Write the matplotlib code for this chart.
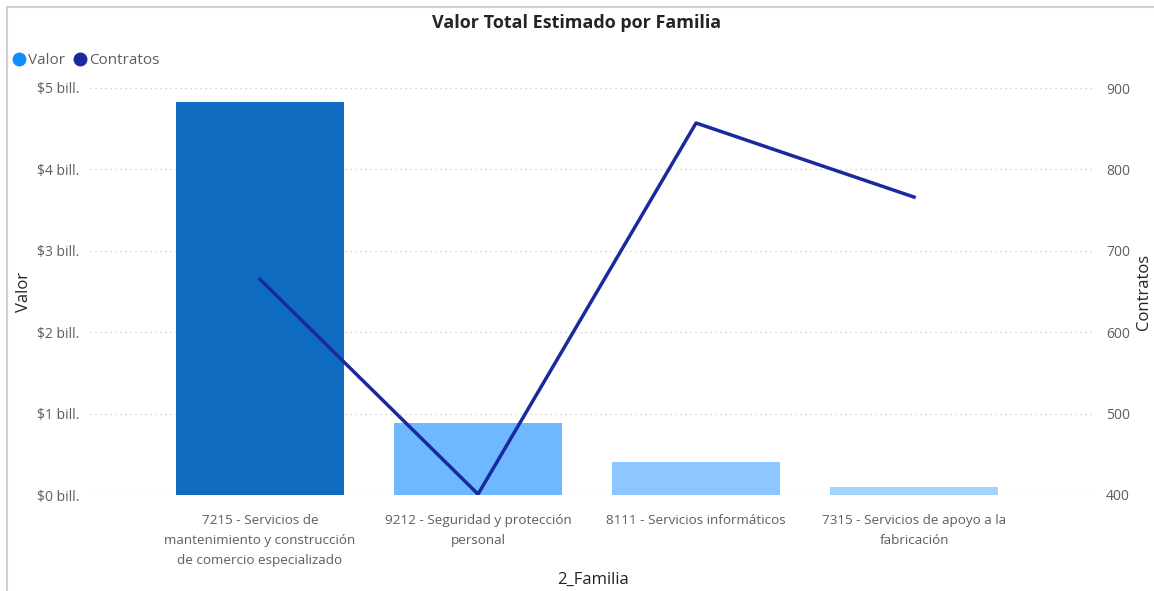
import matplotlib
matplotlib.use("Agg")
import matplotlib.pyplot as plt
from matplotlib.lines import Line2D
from matplotlib.patches import Rectangle
from matplotlib.ticker import FuncFormatter

plt.rcParams['font.family'] = ['Open Sans', 'DejaVu Sans']

familias = [
    "7215 - Servicios de\nmantenimiento y construcción\nde comercio especializado",
    "9212 - Seguridad y protección\npersonal",
    "8111 - Servicios informáticos",
    "7315 - Servicios de apoyo a la\nfabricación",
]
valor_bill = [4.83, 0.885, 0.405, 0.10]
contratos = [665, 401, 857, 766]
bar_colors = ['#0F6BC0', '#6DB8FF', '#8CC8FF', '#A3D2FF']
line_color = '#1A2A9E'
tick_gray = '#605E5C'


def main():
    fig = plt.figure(figsize=(11.54, 5.91), dpi=100)
    ax = fig.add_axes([90 / 1154, 1 - 495 / 591, (1095 - 90) / 1154, (495 - 88) / 591])
    ax2 = ax.twinx()

    x = list(range(len(familias)))
    ax.bar(x, valor_bill, width=0.77, color=bar_colors, zorder=2)
    ax2.plot(x, contratos, color=line_color, linewidth=2.5, zorder=3)

    ax.set_xlim(-0.78, 3.83)
    ax.set_ylim(0, 5)
    ax2.set_ylim(400, 900)
    ax.set_yticks([0, 1, 2, 3, 4, 5])
    ax2.set_yticks([400, 500, 600, 700, 800, 900])
    ax.yaxis.set_major_formatter(FuncFormatter(lambda v, p: f"${v:.0f} bill."))

    ax.grid(axis='y', color='#C8C8C8', linestyle=(0, (1, 3)), linewidth=0.9, zorder=0)
    for a in (ax, ax2):
        for s in a.spines.values():
            s.set_visible(False)
        a.tick_params(length=0, labelsize=10, labelcolor=tick_gray)
    ax.tick_params(axis='y', pad=8)
    ax2.tick_params(axis='y', pad=8)

    ax.set_xticks(x)
    ax.set_xticklabels(familias, fontsize=9.7, color=tick_gray, linespacing=1.68)
    ax.tick_params(axis='x', pad=14)

    ax.set_ylabel("Valor", fontsize=12, color='#252423')
    ax.yaxis.set_label_coords(-0.058, 0.5)
    ax2.set_ylabel("Contratos", fontsize=12, color='#252423')
    ax2.yaxis.set_label_coords(1.041, 0.5)
    ax.set_xlabel("2_Familia", fontsize=12, color='#252423')
    ax.xaxis.set_label_coords(0.5, -0.189)

    fig.text(0.5, 1 - 23 / 591, "Valor Total Estimado por Familia", ha='center', va='center',
             fontsize=13, fontweight='bold', color='#252423')

    handles = [
        Line2D([], [], marker='o', linestyle='', markersize=9, color='#118DFF'),
        Line2D([], [], marker='o', linestyle='', markersize=9, color=line_color),
    ]
    fig.legend(handles, ["Valor", "Contratos"], loc='center left', bbox_to_anchor=(0.012, 1 - 61 / 591),
               ncol=2, frameon=False, fontsize=11, handlelength=0.7, handletextpad=0.25,
               columnspacing=0.6, labelcolor='#605E5C', borderaxespad=0, borderpad=0)

    fig.add_artist(Rectangle((7 / 1154, -0.01), 1.5, 1 - 7 / 591 + 0.01, transform=fig.transFigure,
                             fill=False, edgecolor='#D0D0D0', linewidth=1.5))

    fig.savefig("out.png", dpi=100)


if __name__ == "__main__":
    main()
